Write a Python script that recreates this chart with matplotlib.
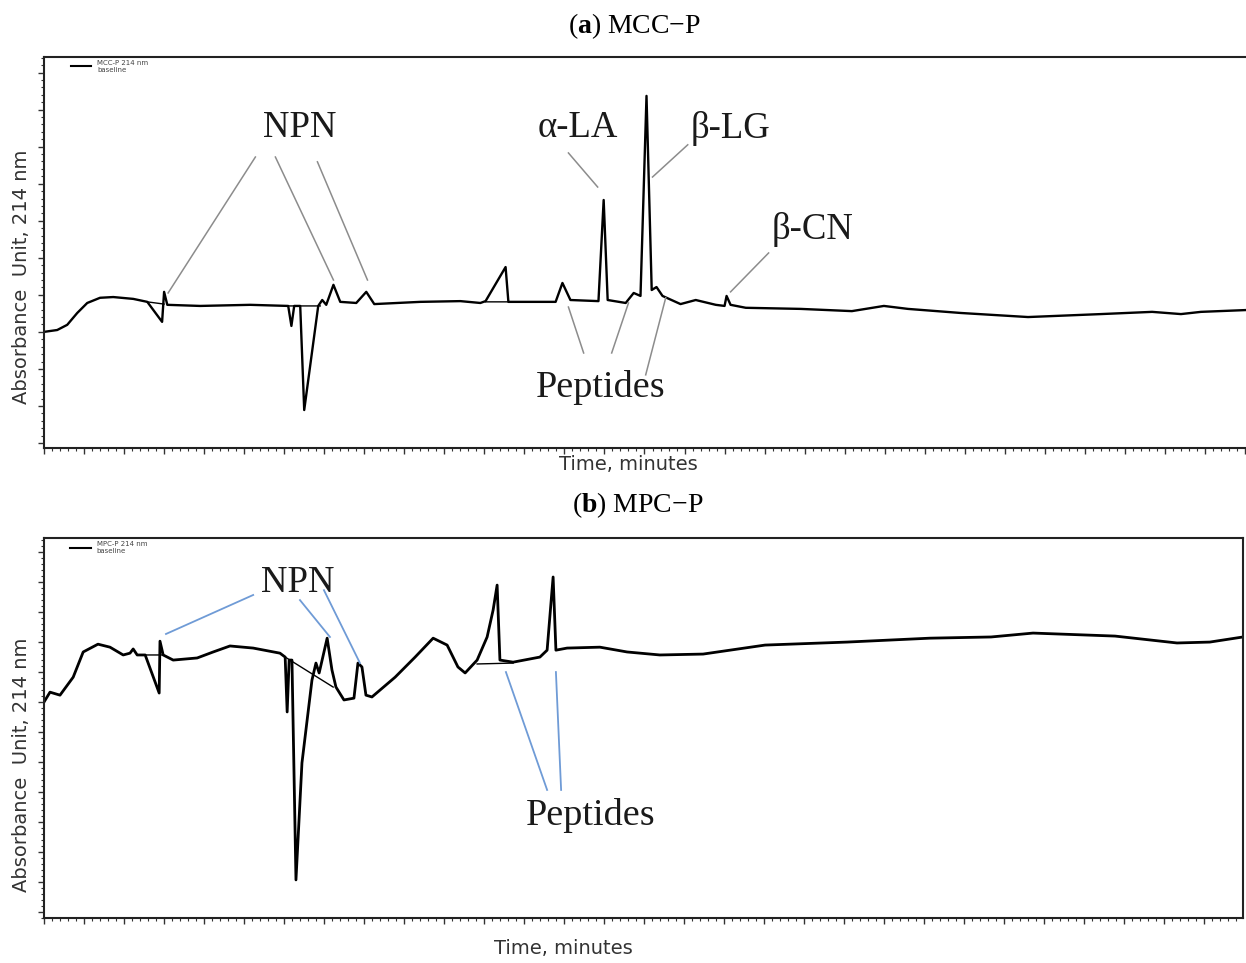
import numpy as np
import matplotlib
matplotlib.use("Agg")
import matplotlib.pyplot as plt
from matplotlib.ticker import MultipleLocator

plt.rcParams['mathtext.fontset'] = 'custom'
plt.rcParams['mathtext.rm'] = 'Liberation Serif'
plt.rcParams['mathtext.bf'] = 'Liberation Serif:bold'

# ---------------- data: panel (a) MCC-P ----------------
time_a = [0.0, 0.33, 0.58, 0.83, 1.08, 1.4, 1.73, 2.23, 2.58, 2.95, 3.0, 3.08, 3.9, 5.15, 6.1,
          6.18, 6.25, 6.4, 6.5, 6.85, 6.95, 7.05, 7.23, 7.4, 7.8, 8.05, 8.25, 9.4, 10.4,
          10.9, 11.03, 11.53, 11.6, 12.78, 12.95, 13.15, 13.85, 13.98, 14.08, 14.53, 14.73,
          14.9, 15.05, 15.18, 15.3, 15.45, 15.9, 16.28, 16.78, 17.0, 17.05, 17.15, 17.53,
          18.9, 20.18, 20.98, 21.58, 22.9, 24.58, 26.4, 27.68, 28.4, 28.9, 30.05]
abs_a = [30.0, 30.5, 31.9, 35.1, 37.8, 39.2, 39.4, 38.9, 38.1, 32.7, 40.8, 37.3, 37.0, 37.3, 37.0,
         31.6, 37.0, 37.0, 8.9, 37.0, 38.6, 37.3, 42.7, 38.1, 37.8, 40.8, 37.5, 38.1, 38.3,
         37.8, 38.3, 47.5, 38.1, 38.1, 43.2, 38.6, 38.3, 65.6, 38.6, 37.8, 40.5,
         39.7, 93.7, 41.3, 42.1, 39.7, 37.5, 38.6, 37.3, 37.0, 39.7, 37.3, 36.5,
         36.2, 35.6, 37.0, 36.2, 35.1, 34.0, 34.8, 35.4, 34.8, 35.4, 35.9]
# integration baselines drawn by the software (NaN separates segments)
base_time_a = [2.58, 3.0, np.nan, 6.1, 6.9, np.nan, 11.03, 11.6]
base_abs_a = [38.1, 37.5, np.nan, 37.0, 37.0, np.nan, 38.1, 38.1]

# ---------------- data: panel (b) MPC-P ----------------
time_b = [0.0, 0.15, 0.4, 0.73, 0.98, 1.35, 1.65, 1.98, 2.15, 2.23, 2.33, 2.53, 2.88, 2.9,
          2.98, 3.23, 3.83, 4.23, 4.65, 5.23, 5.9, 6.03, 6.08, 6.13, 6.2, 6.3, 6.45, 6.7,
          6.8, 6.88, 7.08, 7.2, 7.3, 7.5, 7.75, 7.85, 7.95, 8.05, 8.2, 8.78, 9.28, 9.73,
          10.08, 10.35, 10.53, 10.83, 11.08, 11.23, 11.33, 11.4, 11.73, 12.4, 12.58, 12.73,
          12.8, 13.08, 13.9, 14.58, 15.4, 16.48, 18.03, 20.08, 22.15, 23.68, 24.73, 26.78,
          28.33, 29.15, 29.98]
abs_b = [70.0, 73.3, 72.3, 78.3, 86.7, 89.3, 88.3, 85.7, 86.3, 87.7, 85.7, 85.7, 73.0, 90.3,
         85.7, 84.0, 84.7, 86.7, 88.7, 88.0, 86.3, 85.0, 66.7, 84.0, 84.0, 10.7, 49.7, 77.3,
         83.0, 79.7, 91.3, 80.7, 75.0, 70.7, 71.3, 83.0, 81.7, 72.3, 71.7, 78.3, 85.0, 91.3,
         89.0, 81.7, 79.7, 84.0, 91.7, 100.7, 109.0, 84.0, 83.3, 85.0, 87.3, 111.7,
         87.3, 88.0, 88.3, 86.7, 85.7, 86.0, 89.0, 90.0, 91.3, 91.7, 93.0, 92.0,
         89.7, 90.0, 91.7]
base_time_b = [2.53, 2.98, np.nan, 6.03, 7.23, np.nan, 10.83, 11.73]
base_abs_b = [85.7, 85.7, np.nan, 85.0, 75.0, np.nan, 82.7, 83.0]

# ---------------- annotations ----------------
labels_a = ["NPN", "α-LA", "β-LG", "β-CN", "Peptides"]
label_pos_a = [(6.4, 85.0), (13.33, 85.0), (17.15, 85.0), (19.2, 57.5), (13.9, 14.85)]
leaders_a = [((5.28, 77.2), (3.1, 40.5)), ((5.78, 77.2), (7.23, 44.0)), ((6.83, 75.9), (8.08, 44.0)),
             ((13.1, 78.3), (13.83, 69.1)),
             ((16.08, 80.5), (15.2, 71.8)),
             ((18.1, 51.3), (17.15, 40.8)),
             ((13.48, 24.3), (13.1, 36.7)), ((14.18, 24.3), (14.6, 37.8)), ((15.03, 18.4), (15.53, 39.2))]

labels_b = ["NPN", "Peptides"]
label_pos_b = [(6.35, 109.7), (13.68, 32.3)]
leaders_b = [((5.23, 105.7), (3.05, 92.7)), ((6.4, 104.0), (7.15, 91.7)), ((7.0, 107.3), (7.9, 83.0)),
             ((12.58, 40.7), (11.55, 80.0)), ((12.93, 40.7), (12.8, 80.0))]

W, H = 1246, 963
fig = plt.figure(figsize=(W / 100, H / 100), dpi=100)

def px_axes(l, t, r, b):
    return fig.add_axes([l / W, 1 - b / H, (r - l) / W, (b - t) / H])

ax_a = px_axes(44, 57, 1247, 448)
ax_b = px_axes(44, 538, 1243, 918)

serif = 'Liberation Serif'

def style(ax, xmax, ylim):
    ax.set_xlim(0, xmax)
    ax.set_ylim(*ylim)
    ax.xaxis.set_major_locator(MultipleLocator(1))
    ax.xaxis.set_minor_locator(MultipleLocator(0.2))
    ax.yaxis.set_major_locator(MultipleLocator(10))
    ax.yaxis.set_minor_locator(MultipleLocator(2))
    ax.tick_params(which='major', direction='out', length=4, width=1.0, color='#333333',
                   labelbottom=False, labelleft=False)
    ax.tick_params(which='minor', direction='out', length=2, width=0.8, color='#333333')
    for s in ax.spines.values():
        s.set_linewidth(1.5)
        s.set_color('#222222')

def legend_stub(ax, label):
    h, = ax.plot([], [], color='black', lw=1.5)
    leg = ax.legend([h], [label], loc='upper left', bbox_to_anchor=(0.018, 1.005),
                    frameon=False, fontsize=5, handlelength=3.0, handletextpad=0.8,
                    borderaxespad=0.3, labelspacing=0.1)
    for t in leg.get_texts():
        t.set_color('#444444')

# Panel (a)
style(ax_a, 30.05, (-1.35, 104.2))
ax_a.spines['right'].set_visible(False)
ax_a.plot(base_time_a, base_abs_a, color='black', lw=1.0)
ax_a.plot(time_a, abs_a, color='black', lw=1.7, solid_joinstyle='round')
legend_stub(ax_a, "MCC-P 214 nm\nbaseline")
for (x0, y0), (x1, y1) in leaders_a:
    ax_a.plot([x0, x1], [y0, y1], color='#8c8c8c', lw=1.1)
for lab, (x, y) in zip(labels_a, label_pos_a):
    ax_a.text(x, y, lab, fontsize=27.5 if lab == "Peptides" else 26.5, family=serif,
              ha='center', va='center', color='#1a1a1a')

# Panel (b)
style(ax_b, 29.98, (-2.0, 124.7))
ax_b.plot(base_time_b, base_abs_b, color='black', lw=1.0)
ax_b.plot(time_b, abs_b, color='black', lw=2.0, solid_joinstyle='round')
legend_stub(ax_b, "MPC-P 214 nm\nbaseline")
for (x0, y0), (x1, y1) in leaders_b:
    ax_b.plot([x0, x1], [y0, y1], color='#6f9bd6', lw=1.3)
for lab, (x, y) in zip(labels_b, label_pos_b):
    ax_b.text(x, y, lab, fontsize=27.5 if lab == "Peptides" else 26.5, family=serif,
              ha='center', va='center', color='#1a1a1a')

# Titles and axis labels (figure text)
fig.text(635 / W, 1 - 26 / H, r"($\mathbf{a}$) MCC−P", fontsize=20, family=serif,
         ha='center', va='center')
fig.text(638 / W, 1 - 505 / H, r"($\mathbf{b}$) MPC−P", fontsize=20, family=serif,
         ha='center', va='center')
fig.text(628 / W, 1 - 465 / H, "Time, minutes", fontsize=14, family='DejaVu Sans',
         ha='center', va='center', color='#333333')
fig.text(563 / W, 1 - 948 / H, "Time, minutes", fontsize=14, family='DejaVu Sans',
         ha='center', va='center', color='#333333')
fig.text(22 / W, 1 - 277 / H, "Absorbance  Unit, 214 nm", fontsize=14, family='DejaVu Sans',
         rotation=90, ha='center', va='center', color='#333333')
fig.text(22 / W, 1 - 765 / H, "Absorbance  Unit, 214 nm", fontsize=14, family='DejaVu Sans',
         rotation=90, ha='center', va='center', color='#333333')

fig.savefig("out.png", dpi=100)
